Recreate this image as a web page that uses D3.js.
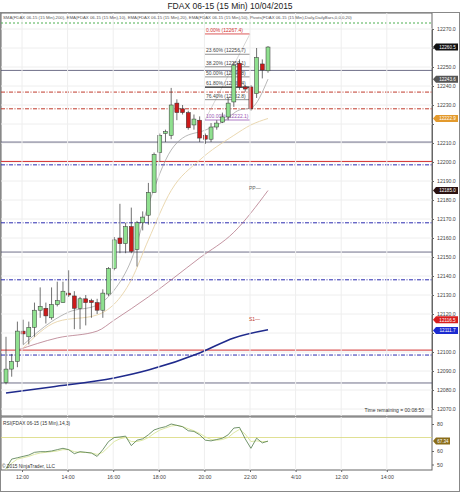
<!DOCTYPE html>
<html><head><meta charset="utf-8">
<script src="https://cdn.jsdelivr.net/npm/d3@7"></script>
<style>body{margin:0;background:#fff}svg{font-family:"Liberation Sans",Arial,sans-serif}</style>
</head><body><svg id="c" width="460" height="492"></svg>
<script>
// ---- data ----
const opens  = [12084,12091,12095,12111,12108,12113,12122,12123,12118,12125,12126,12131,12129.5,12123,12128,12127,12126,12122,12130.5,12144,12160,12157,12166,12154,12168,12172,12184,12205,12215,12214,12231,12228,12226,12219.5,12222,12214,12212,12218.4,12221,12223.7,12231.6,12252,12239.5,12239.5,12236,12251.6,12248];
const highs  = [12108,12099,12116,12117,12116,12126,12134,12126,12134,12137,12137,12143,12132,12129,12130,12128,12128,12133,12144.7,12160.5,12178,12168,12176,12169,12174,12189,12205,12215,12217,12239,12233,12230,12227,12225,12224,12215,12220.5,12222,12226,12234,12252.6,12254,12240.5,12240.5,12260,12254,12261];
const lows   = [12083,12087,12092,12104,12104,12108,12118,12115,12117,12124,12126,12129,12112,12112,12114,12118,12120,12118,12129.5,12143,12152,12152,12152,12145,12164,12167,12184,12200,12210.5,12212,12222,12225,12217,12217,12210.5,12209.5,12210.5,12217,12220.5,12222,12229,12238,12237,12227,12233.7,12244,12247];
const closes = [12091,12095,12111,12109.5,12113,12122,12124,12119,12125,12127,12132,12130,12123,12128,12126,12126,12122,12131,12144,12159,12157,12166,12153,12168,12171,12184,12204,12214,12216,12230,12226,12226,12218,12222.6,12212.6,12212,12218.4,12220.5,12223.7,12231,12251,12239.5,12238.4,12228,12255,12248.4,12260.5];
const sma200Bars = [0,8,19,25,34,40,46];
const sma200Vals = [12078.4,12081.6,12086.3,12090.5,12099.5,12107.4,12111.7];
const ema50Bars = [2,9,16,19,25,34,40,46];
const ema50Vals = [12101,12107.4,12111,12116.8,12129,12149.5,12163,12185];
const ema20Bars = [3,9,16,22,25,29,34,40,43,46];
const ema20Vals = [12102,12116,12119.5,12138,12159,12185,12201,12214,12219.5,12222.9];
const ema10Bars = [3,8,11,16,19,22,25,29,31,35,38,41,43,46];
const ema10Vals = [12103.7,12116,12121,12124.7,12132.6,12148.4,12177.4,12206.3,12212.6,12216.8,12221,12227.4,12228.4,12243.6];
const rsiVals = [47,54,55,56,57,59,59.5,59.5,60,61,62,61,58,59.5,59,58.5,56,61,67,70,70.4,71,64,68,69,72,75.6,77,78,80,79,78,75,74.5,72,68,67.5,68.5,69.5,72,77,77.5,69,62,69.5,66,67.34];
const rsiAvg  = [46,51,54,55,56,57.5,58.5,59,59.5,60,61,61,59.5,59,59,58.5,57.5,59,63,67,69,70,67,67,68,70,73,75.5,77,78.5,79,78,76.5,75,73,70.5,68.5,68,68.5,70,73.5,76,72.5,67,67.5,67,67];
const priceTicks = d3.range(12070,12271,10);
const rsiTicks = [80,60,50];
const timeTickVals = [12,14,16,18,20,22,24,26,28];
const timeTickLabels = ["12:00","14:00","16:00","18:00","20:00","22:00","4/10","12:00","14:00"];
const solidLevels = [12248.2,12210.5,12152.6,12083.7];
const redDashLevels = [12236.8,12228];
const redSolidLevels = [12200.3,12101];
const blueDashLevels = [12198.5,12168,12138,12098.4];
const fibLabels = ["0.00% (12267.4)","23.60% (12256.7)","38.20% (12250.1)","50.00% (12244.8)","61.80% (12239.4)","76.40% (12232.8)","100.00% (12222.1)"];
const fibLevels = [12267.4,12256.7,12250.1,12244.8,12239.4,12232.8,12222.1];
const markerVals = [12260.5,12243.6,12222.9,12185.0,12116.5,12111.7];
const markerColors = ["#111","#555","#e39a2d","#2b1212","#d81e1e","#1c2bd0"];

// ---- scales ----
const svg = d3.select("#c");
const X0 = 1, X1 = 432, PT = 13, PB = 416, RT = 417, RB = 470;
const y = d3.scaleLinear().domain([12070,12270]).range([409,29]);
const ry = d3.scaleLinear().domain([50,80]).range([464.5,424]);
const bx = d3.scaleLinear().domain([0,46]).range([6,268]);
const tx = d3.scaleLinear().domain([12,22]).range([22,250]);

svg.append("text").attr("x",230).attr("y",8.5).attr("text-anchor","middle").attr("font-size",8.5).attr("fill","#222").text("FDAX 06-15 (15 Min)  10/04/2015");

svg.append("rect").attr("x",X0).attr("y",PT).attr("width",X1-X0).attr("height",PB-PT).attr("fill","#fff").attr("stroke","#666");
svg.append("rect").attr("x",X0).attr("y",RT).attr("width",X1-X0).attr("height",RB-RT).attr("fill","#fff").attr("stroke","#666");
svg.append("rect").attr("x",0.5).attr("y",12.5).attr("width",459).attr("height",479).attr("fill","none").attr("stroke","#888");

svg.append("defs").append("clipPath").attr("id","pc").append("rect").attr("x",X0).attr("y",PT).attr("width",X1-X0).attr("height",PB-PT);
const g = svg.append("g").attr("clip-path","url(#pc)");

g.selectAll(".hg").data(priceTicks).join("line").attr("x1",X0).attr("x2",X1).attr("y1",d=>y(d)).attr("y2",d=>y(d)).attr("stroke","#eee");
svg.selectAll(".vg").data(timeTickVals).join("line").attr("x1",d=>tx(d)).attr("x2",d=>tx(d)).attr("y1",PT).attr("y2",PB).attr("stroke","#eee");
svg.selectAll(".vg2").data(timeTickVals).join("line").attr("x1",d=>tx(d)).attr("x2",d=>tx(d)).attr("y1",RT).attr("y2",RB).attr("stroke","#eee");

g.append("line").attr("x1",X0).attr("x2",X1).attr("y1",23).attr("y2",23).attr("stroke","#4caf50").attr("stroke-dasharray","2,2");
g.selectAll(".sl").data(solidLevels).join("line").attr("x1",X0).attr("x2",X1).attr("y1",d=>y(d)).attr("y2",d=>y(d)).attr("stroke","#4a4a6a").attr("stroke-width",0.8);
g.selectAll(".rd").data(redDashLevels).join("line").attr("x1",X0).attr("x2",X1).attr("y1",d=>y(d)).attr("y2",d=>y(d)).attr("stroke","#c0392b").attr("stroke-dasharray","4,1.5,1,1.5");
g.selectAll(".rs").data(redSolidLevels).join("line").attr("x1",X0).attr("x2",X1).attr("y1",d=>y(d)).attr("y2",d=>y(d)).attr("stroke","#d32f2f").attr("stroke-width",1);
g.selectAll(".bd").data(blueDashLevels).join("line").attr("x1",X0).attr("x2",X1).attr("y1",d=>y(d)).attr("y2",d=>y(d)).attr("stroke","#2a2ab0").attr("stroke-dasharray","4,1.5,1,1.5");

function ma(bars, vals, color, w){
  const line = d3.line().x(d=>bx(d[0])).y(d=>y(d[1])).curve(d3.curveMonotoneX);
  g.append("path").attr("d",line(bars.map((b,i)=>[b,vals[i]]))).attr("fill","none").attr("stroke",color).attr("stroke-width",w);
}
ma(sma200Bars,sma200Vals,"#1f2a8c",1.6);
ma(ema50Bars,ema50Vals,"#b57a8a",0.8);
ma(ema20Bars,ema20Vals,"#e8d4a8",0.9);
ma(ema10Bars,ema10Vals,"#9a9a9a",0.7);

g.append("line").attr("x1",205).attr("x2",250).attr("y1",y(fibLevels[6])).attr("y2",y(fibLevels[0])).attr("stroke","#bbb").attr("stroke-width",0.6);
fibLevels.forEach((v,i)=>{
  const col = i==0?"#d32f2f":(i==6?"#9b59b6":(i==4?"#222":"#777"));
  g.append("line").attr("x1",205).attr("x2",250).attr("y1",y(v)).attr("y2",y(v)).attr("stroke",col).attr("stroke-width",i==4?1.2:0.8);
  g.append("text").attr("x",206).attr("y",y(v)-2).attr("font-size",5).attr("fill",i==0?"#d32f2f":(i==6?"#9b59b6":"#444")).text(fibLabels[i]);
});

const idx = d3.range(opens.length);
g.selectAll(".wk").data(idx).join("line").attr("x1",i=>bx(i)).attr("x2",i=>bx(i)).attr("y1",i=>y(highs[i])).attr("y2",i=>y(lows[i])).attr("stroke","#333").attr("stroke-width",0.7);
g.selectAll(".bd2").data(idx).join("rect").attr("x",i=>bx(i)-2).attr("width",4)
  .attr("y",i=>y(Math.max(opens[i],closes[i]))).attr("height",i=>Math.max(1,Math.abs(y(opens[i])-y(closes[i]))))
  .attr("fill",i=>closes[i]>=opens[i]?"#8fe08f":"#cc1a1a").attr("stroke","#333").attr("stroke-width",0.5);

svg.append("text").attr("x",249).attr("y",190).attr("font-size",5).attr("fill","#666").text("PP—");
svg.append("text").attr("x",249).attr("y",321).attr("font-size",5).attr("fill","#c0392b").text("S1—");

svg.append("text").attr("x",3).attr("y",19).attr("font-size",4.3).attr("fill","#555").text("SMA(FDAX 06-15 (15 Min),200), EMA(FDAX 06-15 (15 Min),10), EMA(FDAX 06-15 (15 Min),20), EMA(FDAX 06-15 (15 Min),50), Pivots(FDAX 06-15 (15 Min),Daily,DailyBars,0,0,0,20)");
svg.append("text").attr("x",424).attr("y",412).attr("text-anchor","end").attr("font-size",5).attr("fill","#333").text("Time remaining = 00:08:50");

const ax = svg.append("g").attr("transform",`translate(${X1},0)`)
  .call(d3.axisRight(y).tickValues(priceTicks).tickSize(2).tickFormat(d3.format(".1f")));
ax.select(".domain").attr("stroke","#666");
ax.selectAll("text").attr("font-size",5.2).attr("fill","#444")
  .style("display",d=>markerVals.some(m=>Math.abs(y(m)-y(d))<6)?"none":null);
ax.selectAll("line").attr("stroke","#666");

markerVals.forEach((v,i)=>{
  const yy=y(v) + (i==4?-0.8:(i==5?0.8:0));
  svg.append("path").attr("d",`M${X1+1},${yy} L${X1+4},${yy-3.5} L${X1+26},${yy-3.5} L${X1+26},${yy+3.5} L${X1+4},${yy+3.5} Z`).attr("fill",markerColors[i]);
  svg.append("text").attr("x",X1+15.5).attr("y",yy+1.7).attr("text-anchor","middle").attr("font-size",4.6).attr("fill","#fff").text(d3.format(".1f")(v));
});

svg.append("text").attr("x",3).attr("y",425).attr("font-size",4.8).attr("fill","#333").text("RSI(FDAX 06-15 (15 Min),14,3)");
svg.append("line").attr("x1",X0).attr("x2",X1).attr("y1",ry(70)).attr("y2",ry(70)).attr("stroke","#d8d878").attr("stroke-width",0.8);
const rl = d3.line().x((d,i)=>bx(i)).y(d=>ry(d)).curve(d3.curveLinear);
svg.append("path").attr("d",rl(rsiAvg)).attr("fill","none").attr("stroke","#d8e49a").attr("stroke-width",0.9);
svg.append("path").attr("d",rl(rsiVals)).attr("fill","none").attr("stroke","#4f7a48").attr("stroke-width",0.8);
const rax = svg.append("g").attr("transform",`translate(${X1},0)`).call(d3.axisRight(ry).tickValues(rsiTicks).tickSize(2).tickFormat(d3.format("d")));
rax.select(".domain").remove();
rax.selectAll("text").attr("font-size",5.2).attr("fill","#444");
rax.selectAll("line").attr("stroke","#666");
{
  const v = rsiVals[rsiVals.length-1], yy = ry(v);
  svg.append("path").attr("d",`M${X1+1},${yy} L${X1+4},${yy-3.5} L${X1+18},${yy-3.5} L${X1+18},${yy+3.5} L${X1+4},${yy+3.5} Z`).attr("fill","#8a6d1a");
  svg.append("text").attr("x",X1+11).attr("y",yy+1.8).attr("text-anchor","middle").attr("font-size",4.5).attr("fill","#fff").text(d3.format(".2f")(v));
}
svg.append("text").attr("x",2).attr("y",468).attr("font-size",4.8).attr("fill","#333").text("© 2015 NinjaTrader, LLC");

const tax = svg.append("g").attr("transform",`translate(0,${RB})`).call(d3.axisBottom(tx).tickValues(timeTickVals).tickSize(2).tickFormat((d,i)=>timeTickLabels[i]));
tax.select(".domain").remove();
tax.selectAll("text").attr("font-size",5.2).attr("fill","#444");
tax.selectAll("line").attr("stroke","#666");
</script></body></html>
